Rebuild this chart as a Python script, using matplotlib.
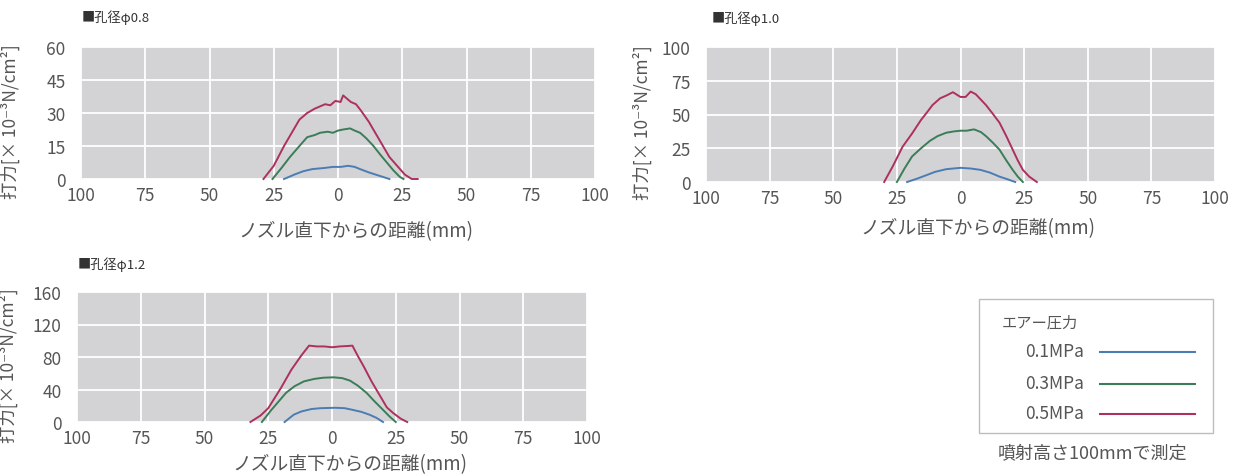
"""Impact force distribution by nozzle bore (three panels + shared legend)."""

import matplotlib
matplotlib.use("Agg")
import matplotlib.pyplot as plt
from matplotlib.lines import Line2D
from matplotlib.patches import Rectangle
from matplotlib.ticker import FixedLocator, FixedFormatter

plt.rcParams["font.family"] = ["Noto Sans CJK JP", "DejaVu Sans"]

# ---------------------------------------------------------------------------
# Data
# ---------------------------------------------------------------------------

PRESSURE_LABELS = ["0.1MPa", "0.3MPa", "0.5MPa"]
PANEL_TITLES = ["■孔径φ0.8", "■孔径φ1.0", "■孔径φ1.2"]
Y_MAX = [60, 100, 160]
Y_TICKS = [[0, 15, 30, 45, 60], [0, 25, 50, 75, 100], [0, 40, 80, 120, 160]]
X_TICKS = [-100, -75, -50, -25, 0, 25, 50, 75, 100]
X_TICK_LABELS = ["100", "75", "50", "25", "0", "25", "50", "75", "100"]

# φ0.8
x08_01 = [-21, -17, -13.6, -10, -5.4, -2, 1, 4, 6.5, 8.6, 12, 16, 20]
y08_01 = [0, 2, 3.5, 4.5, 5, 5.5, 5.5, 6, 5.5, 4.5, 3, 1.5, 0]
x08_03 = [-25.5, -22, -18.7, -15, -12, -9, -7, -4, -2, 0, 2, 4.7, 6.5,
          8.6, 11, 13.8, 16.5, 19, 21.5, 24, 25.5]
y08_03 = [0, 5, 10, 15, 19, 20, 21, 21.5, 21, 22, 22.5, 23, 22,
          21, 18.5, 15, 11, 7.5, 4, 1, 0]
x08_05 = [-29, -25, -21, -18, -15, -12, -9, -7, -5, -3, -1, 1, 2, 3, 5, 7,
          9, 12, 15, 17.5, 20, 23, 26, 28.7, 31]
y08_05 = [0, 6, 15, 21, 27, 30, 32, 33, 34, 33.5, 35.5, 35, 38, 37, 35, 34,
          31, 26, 20, 15, 10, 6, 2, 0, 0]

# φ1.0
x10_01 = [-21, -17, -13.5, -10, -5.6, 0, 4, 7.8, 11.5, 15.3, 18.5, 21.5]
y10_01 = [0, 2.5, 5, 7.5, 9.5, 10.5, 10, 9, 7, 4, 2, 0]
x10_03 = [-25, -22, -19, -15.5, -12, -9, -5.6, -2.5, 0, 2.5, 5.3, 8, 10,
          12.5, 15.3, 18, 20.5, 22.5, 24.5]
y10_03 = [0, 10, 19, 25, 30.5, 34, 36.5, 37.5, 38, 38, 39, 37, 34,
          29.5, 24, 16, 9, 4, 0]
x10_05 = [-30, -26.5, -22.8, -19, -15.5, -13, -11, -8, -5.6, -3, 0, 2, 4, 6,
          8, 10, 12.5, 15.3, 18, 20.5, 22.5, 24.5, 27, 30]
y10_05 = [0, 12, 26, 36, 46, 52, 57, 62, 64, 66.5, 63, 63, 67, 65,
          61, 57, 51, 44, 34, 24, 16, 9, 4, 0]

# φ1.2
x12_01 = [-18.6, -15, -12, -8, -4.5, 1.3, 5, 8, 11.5, 14.7, 17.5, 20]
y12_01 = [0, 9, 13, 16, 17, 17.5, 17, 15, 12.5, 9, 5, 0]
x12_03 = [-27.5, -24, -21, -18, -14.7, -11, -7, -3.5, 0.6, 4, 7, 10, 13.5,
          16.5, 20, 22.5, 25]
y12_03 = [0, 14, 25, 36, 44, 50, 53, 54.5, 55, 54, 51, 45, 36, 26, 15, 7, 0]
x12_05 = [-32, -28, -25, -20, -16, -12, -9, -6, -3, 0, 3, 6, 8, 10, 12.5,
          15.5, 18.5, 21.5, 24, 27, 29.5]
y12_05 = [0, 8, 17, 42, 64, 82, 94, 93, 93, 92, 93, 93.5, 94, 82, 68,
          50, 34, 18, 11, 4, 0]

SERIES = [
    [(x08_01, y08_01), (x08_03, y08_03), (x08_05, y08_05)],
    [(x10_01, y10_01), (x10_03, y10_03), (x10_05, y10_05)],
    [(x12_01, y12_01), (x12_03, y12_03), (x12_05, y12_05)],
]

COLORS = ["#4a7db3", "#3a7d58", "#ad305e"]
BG = "#d3d3d5"
TXT = "#555555"
W, H = 1251, 477

# axes boxes in pixels: left, top, right, bottom
BOXES = [(81, 48, 595, 180), (706, 48, 1215, 183), (77, 293, 587, 423)]
YLABEL_X = [-0.119, -0.107, -0.116]
XLABEL_Y = [232, 229, 465]      # pixel centre of the x label
TITLE_POS = [(82, 18), (712, 19), (78, 265)]


def _rect(box):
    l, t, r, b = box
    return [l / W, 1 - b / H, (r - l) / W, (b - t) / H]


def _fx(px):
    return px / W


def _fy(py):
    return 1 - py / H


def _legend(fig, handles):
    """Hand-placed legend box to match the reference layout."""
    fig.add_artist(Rectangle((_fx(979), _fy(434)), (1213 - 979) / W, (434 - 300) / H,
                             transform=fig.transFigure, facecolor="white",
                             edgecolor="#bdbdbd", linewidth=1.0))
    fig.text(_fx(1002), _fy(323), "エアー圧力", fontsize=11, color=TXT,
             ha="left", va="center")
    for ln, label, py in zip(handles, PRESSURE_LABELS, [352, 384, 414]):
        fig.text(_fx(1084), _fy(py), label, fontsize=12.5, color=TXT,
                 ha="right", va="center")
        fig.add_artist(Line2D([_fx(1100), _fx(1195)], [_fy(py + 1)] * 2,
                              transform=fig.transFigure, color=ln.get_color(),
                              linewidth=1.5))


def main() -> None:
    fig = plt.figure(figsize=(W / 100, H / 100), dpi=100)
    handles = []
    for i, box in enumerate(BOXES):
        ax = fig.add_axes(_rect(box))
        ax.set_facecolor(BG)
        for s in ax.spines.values():
            s.set_visible(False)
        ax.set_xlim(-100, 100)
        ax.set_ylim(0, Y_MAX[i])
        ax.xaxis.set_major_locator(FixedLocator(X_TICKS))
        ax.xaxis.set_major_formatter(FixedFormatter(X_TICK_LABELS))
        ax.set_yticks(Y_TICKS[i])
        ax.grid(True, color="white", linewidth=1.3)
        ax.set_axisbelow(True)
        ax.tick_params(length=0, labelsize=12.5, colors=TXT)
        ax.tick_params(axis="x", pad=5)
        ax.tick_params(axis="y", pad=11)
        lines = []
        for (xs, ys), c in zip(SERIES[i], COLORS):
            (ln,) = ax.plot(xs, ys, color=c, linewidth=1.4, clip_on=False)
            lines.append(ln)
        if i == 0:
            handles = lines

        l, t, r, b = box
        ax.set_xlabel("ノズル直下からの距離(mm)", fontsize=13.5, color=TXT)
        ax.xaxis.label.set_va("center")
        ax.xaxis.set_label_coords(0.535, (b - XLABEL_Y[i]) / (b - t))
        ax.set_ylabel("打力[× 10⁻³N/cm²]", fontsize=12.5, color=TXT)
        ax.yaxis.set_label_coords(YLABEL_X[i], 0.445)

        tx, ty = TITLE_POS[i]
        fig.text(_fx(tx), _fy(ty), PANEL_TITLES[i], fontsize=9.5, color="#333333",
                 ha="left", va="center")

    _legend(fig, handles)
    fig.text(_fx(1092), _fy(453), "噴射高さ100mmで測定", fontsize=13, color=TXT,
             ha="center", va="center")

    fig.savefig("out.png", dpi=100, facecolor="white")
    plt.close(fig)


if __name__ == "__main__":
    main()
